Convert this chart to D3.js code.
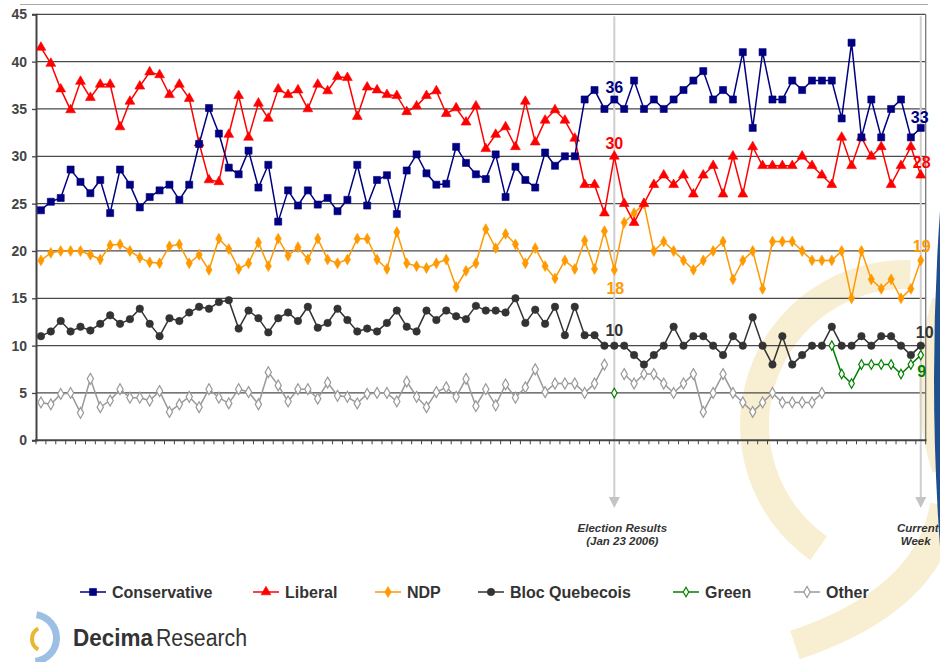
<!DOCTYPE html>
<meta charset="utf-8">
<style>
  html, body { margin: 0; padding: 0; background: #fff; overflow: hidden; }
</style>
<body>
<svg id="chart"></svg>
</body>
<script src="https://d3js.org/d3.v7.min.js"></script>
<script>

// weekly vote intention (%), one value per week, null where the party was not reported
var conservative = [24.3,25.2,25.6,28.6,27.3,26.1,27.5,24.0,28.6,27.0,24.6,25.7,26.4,27.0,25.4,27.0,31.3,35.1,32.4,28.8,
  28.1,30.6,26.7,29.1,23.1,26.4,24.8,26.4,24.9,25.6,24.2,25.4,29.1,24.8,27.5,28.0,23.9,28.5,30.2,28.2,
  27.0,27.1,31.0,29.3,28.1,27.6,30.2,25.7,28.9,27.5,26.7,30.4,29,30,30,36,37,35,36,
  35,38,35,36,35,36,37,38,39,36,37,36,41,33,41,36,36,38,37,38,38,38,34,42,32,36,32,35,36,32,33];
var liberal = [41.5,39.8,37.1,34.9,37.9,36.2,37.6,37.6,33.1,35.8,37.4,38.9,38.6,36.5,37.6,36.1,31.4,27.5,27.3,32.3,
  36.4,32.0,35.6,34.0,37.1,36.5,37.0,35.0,37.6,36.9,38.4,38.3,34.2,37.3,37.0,36.5,36.4,34.7,35.3,36.4,
  36.9,34.5,35.1,33.6,35.3,30.8,32.3,33.1,31.0,35.8,31.5,33.8,34.9,33.8,31.9,27,27,24,30,
  25,23,25,27,28,27,28,26,28,29,26,30,26,31,29,29,29,29,30,29,28,27,32,29,32,30,31,27,29,31,28];
var ndp = [19.0,19.8,20.0,20.0,20.0,19.6,19.1,20.6,20.7,20.0,19.3,18.8,18.7,20.5,20.7,18.7,19.6,18.0,21.3,20.2,
  18.1,18.7,20.9,18.4,21.3,19.5,20.4,19.1,21.3,19.1,18.7,19.1,21.3,21.3,19.1,18.1,22.0,18.7,18.4,18.2,
  18.7,19.1,16.2,17.9,18.7,22.3,20.3,21.8,20.7,18.7,20.3,18.4,17.1,19.0,18.1,21.1,18.1,22.1,18,
  23,24,25,20,21,20,19,18,19,20,21,17,19,20,16,21,21,21,20,19,19,19,20,15,20,17,16,17,15,16,19];
var bloc = [11.0,11.5,12.6,11.5,12.0,11.6,12.3,13.2,12.3,12.8,13.9,12.3,11.0,12.9,12.6,13.5,14.1,13.9,14.6,14.8,
  11.8,13.7,12.9,11.4,12.9,13.5,12.6,14.1,11.9,12.4,13.9,12.7,11.5,11.8,11.5,12.4,13.7,12.0,11.5,13.7,
  12.7,13.7,13.1,12.8,14.2,13.7,13.7,13.5,15.0,12.4,13.8,12.3,14.1,11.1,14.1,11.1,11.1,10,10,
  10,9,8,9,10,12,10,11,11,10,9,11,10,13,10,8,11,8,9,10,10,12,10,10,11,10,11,11,10,9,10];
var green = [null,null,null,null,null,null,null,null,null,null,null,null,null,null,null,null,null,null,null,null,
  null,null,null,null,null,null,null,null,null,null,null,null,null,null,null,null,null,null,null,null,
  null,null,null,null,null,null,null,null,null,null,null,null,null,null,null,null,null,null,5,
  null,null,null,null,null,null,null,null,null,null,null,null,null,null,null,null,null,null,null,null,null,
  10,7,6,8,8,8,8,7,8,9];
var other = [4.0,3.8,4.9,5.0,2.9,6.5,3.5,4.2,5.4,4.5,4.5,4.2,5.2,3.0,3.8,4.6,3.5,5.4,4.5,3.9,
  5.4,5.1,3.8,7.2,5.8,4.1,5.4,5.4,4.4,6.1,4.7,4.6,3.9,4.9,5.0,5.0,4.1,6.2,4.6,3.5,
  5.1,5.6,4.6,6.5,3.6,5.4,3.7,5.9,4.5,5.6,7.5,5.1,6,6,6,5,6,8,null,
  7,6,7,7,6,5,6,7,3,5,7,5,4,3,4,5,4,4,4,4,5,
  null,null,null,null,null,null,null,null,null,null];

var yTicks = [0,5,10,15,20,25,30,35,40,45];
var electionWeek = 58, currentWeek = 89;

var series = [
  {name:"Conservative", values:conservative, color:"#000080", symbol:d3.symbolSquare, size:50, hollow:false},
  {name:"Liberal", values:liberal, color:"#ff0000", symbol:d3.symbolTriangle, size:42, hollow:false},
  {name:"NDP", values:ndp, color:"#ff9900", symbol:d3.symbolDiamond, size:34, hollow:false},
  {name:"Bloc Quebecois", values:bloc, color:"#333333", symbol:d3.symbolCircle, size:44, hollow:false},
  {name:"Green", values:green, color:"#008000", symbol:d3.symbolDiamond, size:26, hollow:true},
  {name:"Other", values:other, color:"#999999", symbol:d3.symbolDiamond, size:34, hollow:true}
];

// end-point labels [series index, week, text, dx, dy]
var callouts = [
  [0, 58, "36", 0, -7], [1, 58, "30", 0, -7], [2, 58, "18", 1, 24], [3, 58, "10", 0, -10],
  [0, 89, "33", -1, -5], [1, 89, "28", 1, -7], [2, 89, "19", 1, -8], [3, 89, "10", 4, -8], [4, 89, "9", 1, 22]
];

var width = 940, height = 662;
var svg = d3.select("#chart").attr("width", width).attr("height", height)
    .style("display","block").style("background","#fff");

var x = d3.scaleBand().domain(d3.range(90)).range([36, 925.7]);
var y = d3.scaleLinear().domain([0,45]).range([440.3, 14.3]);
var cx = function(i){ return x(i) + x.bandwidth()/2; };

// background logo swirl
var deco = svg.append("g").attr("class","deco").attr("opacity",0.45);
deco.append("path")
    .attr("transform","translate(905,425)")
    .attr("d", d3.arc().innerRadius(136).outerRadius(165)
        .startAngle(215*Math.PI/180).endAngle(362*Math.PI/180)())
    .attr("fill","#f1dc9c");
deco.append("path")
    .attr("d","M795,645 Q930,600 945,505")
    .attr("fill","none").attr("stroke","#f1dc9c").attr("stroke-width",30);
deco.append("path")
    .attr("d","M941,300 Q915,390 941,470")
    .attr("fill","none").attr("stroke","#f1dc9c").attr("stroke-width",18);
svg.append("path")
    .attr("d","M941,198 Q927,380 941,560 Z")
    .attr("fill","#1f4f8f");

// top rule
svg.append("line").attr("x1",20).attr("x2",928).attr("y1",4.5).attr("y2",4.5)
    .attr("stroke","#aaa").attr("stroke-width",1);

// gridlines
svg.append("g").selectAll("line").data(yTicks.filter(function(d){return d>0;}))
  .enter().append("line")
    .attr("x1",36).attr("x2",925.7)
    .attr("y1",function(d){return y(d);}).attr("y2",function(d){return y(d);})
    .attr("stroke","#4a4a4a").attr("stroke-width",1.3);

svg.append("line").attr("x1",925.7).attr("x2",925.7).attr("y1",y(45)).attr("y2",y(0))
    .attr("stroke","#777").attr("stroke-width",1.3);

// marker lines for election and current week
var marks = svg.append("g");
[electionWeek, currentWeek].forEach(function(w){
  var mx = cx(w);
  marks.append("line").attr("x1",mx).attr("x2",mx).attr("y1",y(45)+2).attr("y2",498)
      .attr("stroke","#cfcfcf").attr("stroke-width",2);
  marks.append("path").attr("d","M"+(mx-5.5)+",497L"+(mx+5.5)+",497L"+mx+",508Z").attr("fill","#c4c4c4");
});
var noteStyle = function(t){ t.attr("font-family","Liberation Sans, Arial, sans-serif").attr("font-size",11.5)
  .attr("font-weight","bold").attr("font-style","italic").attr("fill","#333").attr("text-anchor","middle"); };
marks.append("text").attr("x",cx(electionWeek)+8).attr("y",532).text("Election Results").call(noteStyle);
marks.append("text").attr("x",cx(electionWeek)+8).attr("y",545).text("(Jan 23 2006)").call(noteStyle);
marks.append("text").attr("x",cx(currentWeek)-3).attr("y",532).text("Current").call(noteStyle);
marks.append("text").attr("x",cx(currentWeek)-5).attr("y",545).text("Week").call(noteStyle);

// axes
var yAxis = svg.append("g").attr("transform","translate(36,0)")
    .call(d3.axisLeft(y).tickValues(yTicks).tickSize(4).tickPadding(5));
yAxis.select(".domain").attr("stroke","#444").attr("stroke-width",2);
yAxis.selectAll(".tick line").attr("stroke","#444").attr("stroke-width",1.3);
yAxis.selectAll("text").attr("font-family","Liberation Sans, Arial, sans-serif")
    .attr("font-size",14).attr("font-weight","bold").attr("fill","#444");

var xAxis = svg.append("g").attr("transform","translate(0,440.3)");
xAxis.append("line").attr("x1",35).attr("x2",926.5).attr("stroke","#444").attr("stroke-width",2);
xAxis.selectAll("line.tk").data(d3.range(91)).enter().append("line").attr("class","tk")
    .attr("x1",function(i){return i<90 ? x(i) : x(89)+x.bandwidth();})
    .attr("x2",function(i){return i<90 ? x(i) : x(89)+x.bandwidth();})
    .attr("y1",0).attr("y2",4).attr("stroke","#444").attr("stroke-width",1);

// series
var line = d3.line().defined(function(d){return d != null;})
    .x(function(d,i){return cx(i);}).y(function(d){return y(d);});

var draw = svg.append("g");
series.slice().reverse().forEach(function(s){
  var g = draw.append("g");
  g.append("path").datum(s.values).attr("d",line)
      .attr("fill","none").attr("stroke",s.color).attr("stroke-width",1.5);
  g.selectAll("path.pt")
    .data(s.values.map(function(v,i){return {v:v,i:i};}).filter(function(d){return d.v != null;}))
    .enter().append("path").attr("class","pt")
      .attr("transform",function(d){return "translate("+cx(d.i)+","+y(d.v)+")";})
      .attr("d",d3.symbol().type(s.symbol).size(s.size))
      .attr("fill",s.hollow ? "#fff" : s.color)
      .attr("stroke",s.color).attr("stroke-width",s.hollow ? 1.2 : 0.6);
});

// value callouts
svg.append("g").selectAll("text").data(callouts).enter().append("text")
    .attr("x",function(d){return cx(d[1]) + d[3];})
    .attr("y",function(d){return y(series[d[0]].values[d[1]]) + d[4];})
    .attr("text-anchor","middle")
    .attr("font-family","Liberation Sans, Arial, sans-serif").attr("font-size",16).attr("font-weight","bold")
    .attr("fill",function(d){return series[d[0]].color;})
    .text(function(d){return d[2];});

// legend
var legendX = [80, 253, 375, 478, 673, 794];
var legend = svg.append("g").selectAll("g").data(series).enter().append("g")
    .attr("transform",function(d,i){return "translate("+legendX[i]+",592)";});
legend.append("line").attr("x1",0).attr("x2",26)
    .attr("stroke",function(d){return d.color;}).attr("stroke-width",1.5);
legend.append("path").attr("transform","translate(13,0)")
    .attr("d",function(d){return d3.symbol().type(d.symbol).size(d.size)();})
    .attr("fill",function(d){return d.hollow ? "#fff" : d.color;})
    .attr("stroke",function(d){return d.color;}).attr("stroke-width",function(d){return d.hollow ? 1.2 : 0.6;});
legend.append("text").attr("x",32).attr("y",6)
    .attr("font-family","Liberation Sans, Arial, sans-serif").attr("font-size",16).attr("font-weight","bold")
    .attr("fill","#333").text(function(d){return d.name;});

// company logo
var logo = svg.append("g");
logo.append("path").attr("transform","translate(33,638)")
    .attr("d", d3.arc().innerRadius(20).outerRadius(27).startAngle(0.15).endAngle(Math.PI-0.1)())
    .attr("fill","#9cc0e4");
logo.append("path").attr("transform","translate(44,639)")
    .attr("d", d3.arc().innerRadius(10).outerRadius(14).startAngle(Math.PI+0.5).endAngle(2*Math.PI-0.5)())
    .attr("fill","#e8b830");
logo.append("text").attr("x",73).attr("y",646).attr("font-family","Liberation Sans, Arial, sans-serif")
    .attr("font-size",23).attr("font-weight","bold").attr("fill","#333")
    .attr("textLength",80).attr("lengthAdjust","spacingAndGlyphs").text("Decima");
logo.append("text").attr("x",156).attr("y",646).attr("font-family","Liberation Sans, Arial, sans-serif")
    .attr("font-size",23).attr("fill","#333")
    .attr("textLength",91).attr("lengthAdjust","spacingAndGlyphs").text("Research");

</script>
